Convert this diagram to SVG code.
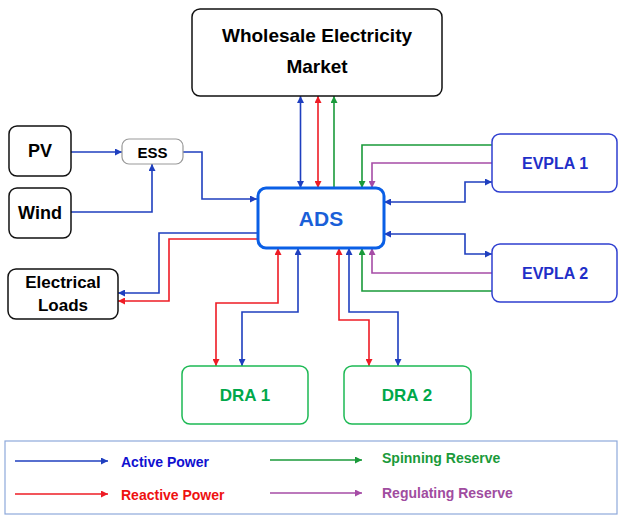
<svg xmlns="http://www.w3.org/2000/svg" width="619" height="515" viewBox="0 0 619 515">
<style>
text{font-family:"Liberation Sans",Arial,sans-serif;font-weight:bold;text-anchor:middle;dominant-baseline:central}
.k{fill:#fff;stroke:#111;stroke-width:1.5}
.c{fill:none;stroke-width:1.6}
.b{stroke:#1f3fbf}.r{stroke:#ee1c25}.g{stroke:#1a9a3a}.p{stroke:#a64ca6}
.lt{text-anchor:start;font-size:14px}
</style>
<defs>
<marker id="ab" viewBox="0 0 8 8" refX="8" refY="4" markerWidth="7" markerHeight="7" markerUnits="userSpaceOnUse" orient="auto-start-reverse"><path d="M0 0L8 4L0 8z" fill="#1f3fbf"/></marker>
<marker id="ar" viewBox="0 0 8 8" refX="8" refY="4" markerWidth="7" markerHeight="7" markerUnits="userSpaceOnUse" orient="auto-start-reverse"><path d="M0 0L8 4L0 8z" fill="#ee1c25"/></marker>
<marker id="ag" viewBox="0 0 8 8" refX="8" refY="4" markerWidth="7" markerHeight="7" markerUnits="userSpaceOnUse" orient="auto-start-reverse"><path d="M0 0L8 4L0 8z" fill="#1a9a3a"/></marker>
<marker id="ap" viewBox="0 0 8 8" refX="8" refY="4" markerWidth="7" markerHeight="7" markerUnits="userSpaceOnUse" orient="auto-start-reverse"><path d="M0 0L8 4L0 8z" fill="#a64ca6"/></marker>
</defs>
<rect width="619" height="515" fill="#fff"/>
<g id="connectors">
<path class="c b" d="M300.5 96V188" marker-start="url(#ab)" marker-end="url(#ab)"/>
<path class="c r" d="M318 96V188" marker-start="url(#ar)" marker-end="url(#ar)"/>
<path class="c g" d="M334 188V96" marker-end="url(#ag)"/>
<path class="c g" d="M492 145H362V188" marker-end="url(#ag)"/>
<path class="c p" d="M492 163H372V188" marker-end="url(#ap)"/>
<path class="c b" d="M384 202H465V182H492" marker-start="url(#ab)" marker-end="url(#ab)"/>
<path class="c b" d="M384 234H465V254H492" marker-start="url(#ab)" marker-end="url(#ab)"/>
<path class="c p" d="M492 273H372V248" marker-end="url(#ap)"/>
<path class="c g" d="M492 291H362V248" marker-end="url(#ag)"/>
<path class="c b" d="M71 152H122" marker-end="url(#ab)"/>
<path class="c b" d="M71 212H152V164" marker-end="url(#ab)"/>
<path class="c b" d="M183 152H202V199H257" marker-end="url(#ab)"/>
<path class="c b" d="M257 233H159V293H118" marker-end="url(#ab)"/>
<path class="c r" d="M257 239H169V301H118" marker-end="url(#ar)"/>
<path class="c r" d="M278 248V303H216V366" marker-start="url(#ar)" marker-end="url(#ar)"/>
<path class="c b" d="M298 248V312H242V366" marker-start="url(#ab)" marker-end="url(#ab)"/>
<path class="c r" d="M339 248V320H369V366" marker-start="url(#ar)" marker-end="url(#ar)"/>
<path class="c b" d="M349 248V312H398V366" marker-start="url(#ab)" marker-end="url(#ab)"/>
</g>
<g id="wem"><rect class="k" x="192" y="9" width="250" height="87" rx="8"/><text x="317" y="35" font-size="19">Wholesale Electricity</text><text x="317" y="66" font-size="19">Market</text></g>
<g id="ads"><rect x="258" y="188" width="126" height="60" rx="8" fill="#fff" stroke="#0a5fe6" stroke-width="3"/><text x="321" y="218" font-size="21" fill="#1a5fd8">ADS</text></g>
<g id="pv"><rect class="k" x="9" y="126" width="62" height="50" rx="8"/><text x="40" y="151" font-size="18">PV</text></g>
<g id="wind"><rect class="k" x="9" y="188" width="62" height="50" rx="8"/><text x="40" y="213" font-size="18">Wind</text></g>
<g id="ess"><rect x="122" y="139" width="61" height="25" rx="7" fill="#fff" stroke="#999" stroke-width="1.2"/><text x="152.5" y="152" font-size="15">ESS</text></g>
<g id="loads"><rect class="k" x="8" y="269" width="110" height="50" rx="8"/><text x="63" y="282" font-size="17">Electrical</text><text x="63" y="305" font-size="17">Loads</text></g>
<g id="evpla1"><rect x="492" y="134" width="125" height="58" rx="8" fill="#fff" stroke="#2f3fd0" stroke-width="1.5"/><text x="555" y="163" font-size="16" fill="#1f2fc8">EVPLA 1</text></g>
<g id="evpla2"><rect x="492" y="244" width="125" height="58" rx="8" fill="#fff" stroke="#2f3fd0" stroke-width="1.5"/><text x="555" y="273" font-size="16" fill="#1f2fc8">EVPLA 2</text></g>
<g id="dra1"><rect x="182" y="366" width="126" height="58" rx="8" fill="#fff" stroke="#1db954" stroke-width="1.5"/><text x="245" y="395" font-size="17" fill="#00a84a">DRA 1</text></g>
<g id="dra2"><rect x="344" y="366" width="127" height="58" rx="8" fill="#fff" stroke="#1db954" stroke-width="1.5"/><text x="407" y="395" font-size="17" fill="#00a84a">DRA 2</text></g>
<g id="legend">
<rect x="5" y="441" width="612" height="73" fill="#fff" stroke="#8ea9db" stroke-width="1.2"/>
<path class="c b" d="M15 461H108" marker-end="url(#ab)"/>
<path class="c r" d="M15 494H108" marker-end="url(#ar)"/>
<path class="c g" d="M270 460H362" marker-end="url(#ag)"/>
<path class="c p" d="M270 493H362" marker-end="url(#ap)"/>
<text class="lt" x="121" y="462" fill="#1010d0">Active Power</text>
<text class="lt" x="121" y="495" fill="#ee1111">Reactive Power</text>
<text class="lt" x="382" y="458" fill="#1a9a3a">Spinning Reserve</text>
<text class="lt" x="382" y="493" fill="#a04ca0">Regulating Reserve</text>
</g>
</svg>
